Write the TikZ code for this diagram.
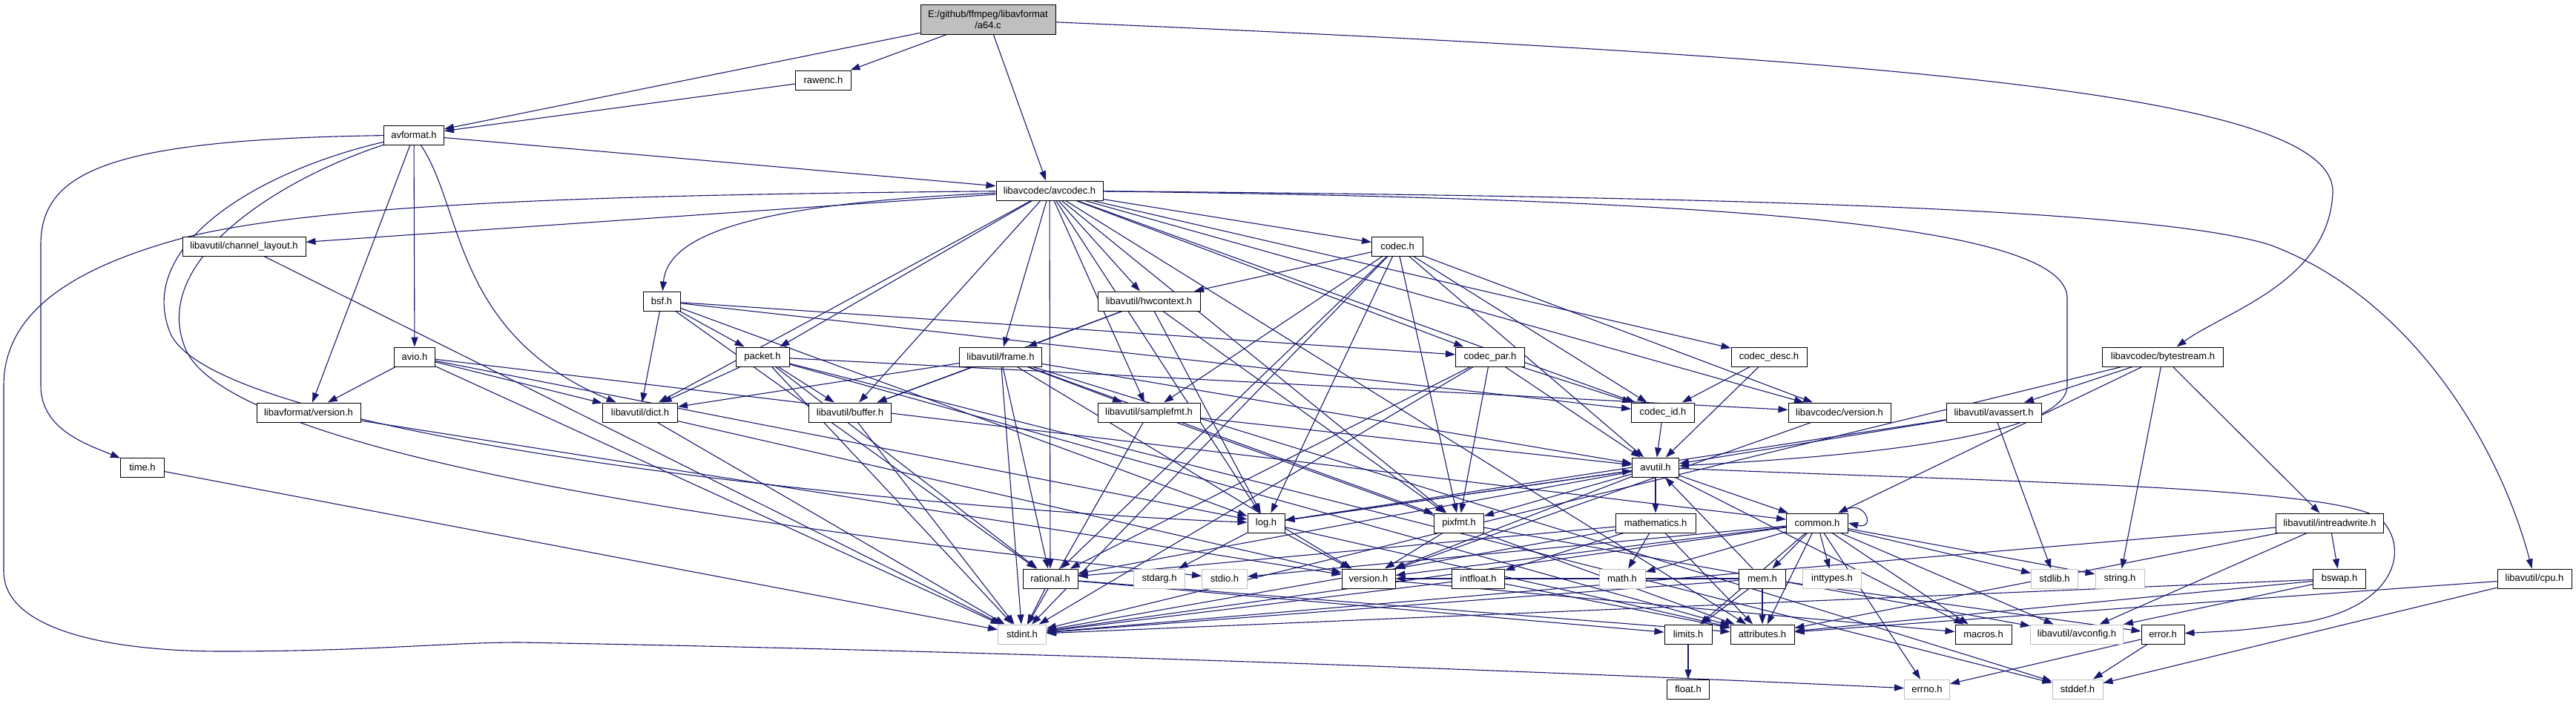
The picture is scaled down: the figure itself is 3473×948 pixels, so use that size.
\documentclass[tikz,border=0pt]{standalone}
\usepackage{fontspec}
\setmainfont{Liberation Sans}
\usetikzlibrary{arrows.meta}
\definecolor{edgeblue}{HTML}{191970}
\definecolor{sysgray}{HTML}{BFBFBF}
\pgfdeclarelayer{bg}
\pgfsetlayers{bg,main}
\begin{document}
\begin{tikzpicture}[x=1pt,y=-1pt,
  box/.style={draw=black, line width=1pt, fill=white, inner sep=0pt, minimum height=26pt, font=\fontsize{13}{15}\selectfont},
  sys/.style={box, draw=sysgray},
  dep/.style={draw=edgeblue, line width=1.1pt, -{Triangle[length=13pt,width=9pt]}},
]
\useasboundingbox (0,0) rectangle (3473,948);
% nodes
\node[box, minimum width=182pt, minimum height=40pt, fill=sysgray, align=center] (a64) at (1332,26) {E:/github/ffmpeg/libavformat\\/a64.c};
\node[box, minimum width=75pt] (rawenc) at (1110,108) {rawenc.h};
\node[box, minimum width=81pt] (avformat) at (558,182) {avformat.h};
\node[box, minimum width=144pt] (avcodec) at (1415,257) {libavcodec/avcodec.h};
\node[box, minimum width=166pt] (chlayout) at (329,332) {libavutil/channel\_layout.h};
\node[box, minimum width=69pt] (codec) at (1884,332) {codec.h};
\node[box, minimum width=50pt] (bsf) at (892,406) {bsf.h};
\node[box, minimum width=138pt] (hwcontext) at (1549,406) {libavutil/hwcontext.h};
\node[box, minimum width=55pt] (avio) at (559,481) {avio.h};
\node[box, minimum width=72pt] (packet) at (1028,481) {packet.h};
\node[box, minimum width=111pt] (frame) at (1349,481) {libavutil/frame.h};
\node[box, minimum width=93pt] (codecpar) at (2009,481) {codec\_par.h};
\node[box, minimum width=102pt] (codecdesc) at (2385,481) {codec\_desc.h};
\node[box, minimum width=163pt] (bytestream) at (2916,481) {libavcodec/bytestream.h};
\node[box, minimum width=140pt] (fmtversion) at (416,556) {libavformat/version.h};
\node[box, minimum width=101pt] (dict) at (863,556) {libavutil/dict.h};
\node[box, minimum width=111pt] (buffer) at (1146,556) {libavutil/buffer.h};
\node[box, minimum width=138pt] (samplefmt) at (1549,556) {libavutil/samplefmt.h};
\node[box, minimum width=85pt] (codecid) at (2242,556) {codec\_id.h};
\node[box, minimum width=138pt] (codecversion) at (2480,556) {libavcodec/version.h};
\node[box, minimum width=128pt] (avassert) at (2688,556) {libavutil/avassert.h};
\node[box, minimum width=59pt] (timeh) at (192,630) {time.h};
\node[box, minimum width=63pt] (avutil) at (2232,630) {avutil.h};
\node[box, minimum width=50pt] (log) at (1707,705) {log.h};
\node[box, minimum width=67pt] (pixfmt) at (1967,705) {pixfmt.h};
\node[box, minimum width=108pt] (mathematics) at (2232,705) {mathematics.h};
\node[box, minimum width=83pt] (common) at (2450,705) {common.h};
\node[box, minimum width=145pt] (intreadwrite) at (3141,705) {libavutil/intreadwrite.h};
\node[box, minimum width=74pt] (rational) at (1416,780) {rational.h};
\node[sys, minimum width=69pt] (stdarg) at (1563,780) {stdarg.h};
\node[sys, minimum width=61pt] (stdio) at (1651,780) {stdio.h};
\node[box, minimum width=72pt] (version) at (1845,780) {version.h};
\node[box, minimum width=71pt] (intfloat) at (1993,780) {intfloat.h};
\node[sys, minimum width=62pt] (math) at (2187,780) {math.h};
\node[box, minimum width=63pt] (mem) at (2376,780) {mem.h};
\node[sys, minimum width=79pt] (inttypes) at (2470,780) {inttypes.h};
\node[sys, minimum width=63pt] (stdlib) at (2770,780) {stdlib.h};
\node[sys, minimum width=66pt] (string) at (2858,780) {string.h};
\node[box, minimum width=71pt] (bswap) at (3154,780) {bswap.h};
\node[box, minimum width=100pt] (cpu) at (3417,780) {libavutil/cpu.h};
\node[sys, minimum width=65pt] (stdint) at (1378,855) {stdint.h};
\node[box, minimum width=64pt] (limits) at (2276,855) {limits.h};
\node[box, minimum width=86pt] (attributes) at (2376,855) {attributes.h};
\node[box, minimum width=76pt] (macros) at (2674,855) {macros.h};
\node[sys, minimum width=125pt] (avconfig) at (2800,855) {libavutil/avconfig.h};
\node[box, minimum width=58pt] (error) at (2916,855) {error.h};
\node[box, minimum width=57pt] (float) at (2276,929) {float.h};
\node[sys, minimum width=61pt] (errno) at (2598,929) {errno.h};
\node[sys, minimum width=68pt] (stddef) at (2801,929) {stddef.h};
% edges
\begin{pgfonlayer}{bg}
\fill[white] (0,0) rectangle (3473,948);
\foreach \a/\b in {a64/avformat, a64/rawenc, a64/avcodec, rawenc/avformat,
  avformat/avcodec, avformat/avio, avformat/fmtversion,
  avcodec/samplefmt, avcodec/attributes, avcodec/buffer, avcodec/chlayout, avcodec/dict, avcodec/frame, avcodec/hwcontext, avcodec/log, avcodec/pixfmt, avcodec/rational, avcodec/codec, avcodec/codecdesc, avcodec/codecpar, avcodec/codecid, avcodec/packet, avcodec/codecversion,
  bsf/dict, bsf/log, bsf/rational, bsf/codecid, bsf/codecpar, bsf/packet,
  codec/stdint, codec/avutil, codec/hwcontext, codec/log, codec/pixfmt, codec/rational, codec/samplefmt, codec/codecid, codec/codecversion,
  codecdesc/avutil, codecdesc/codecid,
  codecpar/stdint, codecpar/avutil, codecpar/rational, codecpar/pixfmt, codecpar/codecid,
  codecid/avutil, codecversion/version,
  packet/stddef, packet/stdint, packet/attributes, packet/buffer, packet/dict, packet/rational, packet/codecversion,
  frame/stddef, frame/stdint, frame/avutil, frame/buffer, frame/dict, frame/rational, frame/samplefmt, frame/pixfmt, frame/version,
  hwcontext/buffer, hwcontext/frame, hwcontext/log, hwcontext/pixfmt,
  samplefmt/stdint, samplefmt/avutil, samplefmt/attributes,
  buffer/stdint, dict/stdint, dict/version, chlayout/stdint,
  avutil/common, avutil/rational, avutil/version, avutil/macros, avutil/mathematics, avutil/log, avutil/pixfmt,
  common/errno, common/inttypes, common/limits, common/math, common/stdint, common/stdio, common/stdlib, common/string, common/attributes, common/macros, common/version, common/avconfig, common/mem,
  mem/limits, mem/stdint, mem/attributes, mem/error, mem/avutil, mem/version,
  mathematics/stdint, mathematics/math, mathematics/attributes, mathematics/rational, mathematics/intfloat,
  intfloat/stdint, intfloat/attributes,
  rational/stdint, rational/limits, rational/attributes,
  log/stdarg, log/avutil, log/attributes, log/version,
  pixfmt/avconfig, pixfmt/version, version/macros,
  error/errno, error/stddef, limits/float,
  cpu/stddef, cpu/attributes,
  avassert/stdlib, avassert/avutil, avassert/log,
  bytestream/stdint, bytestream/string, bytestream/avassert, bytestream/common, bytestream/intreadwrite,
  intreadwrite/stdint, intreadwrite/avconfig, intreadwrite/attributes, intreadwrite/bswap,
  bswap/stdint, bswap/avconfig, bswap/attributes,
  avio/stdint, avio/common, avio/dict, avio/log, avio/fmtversion,
  fmtversion/version, timeh/stdint}
  {\draw[dep] (\a) -- (\b);}
% routed edges
\draw[dep] (a64) .. controls (2600,80) and (3150,130) .. (3145,260) .. controls (3140,380) and (3000,420) .. (bytestream);
\draw[dep] (avformat) .. controls (150,188) and (55,230) .. (55,330) -- (55,520) .. controls (55,580) and (120,600) .. (timeh);
\draw[dep] (avformat) .. controls (350,230) and (180,330) .. (230,450) .. controls (300,600) and (1300,690) .. (log);
\draw[dep] (avformat) .. controls (380,240) and (200,350) .. (250,470) .. controls (320,640) and (1300,740) .. (stdio);
\draw[dep] (avformat) .. controls (625,280) and (610,450) .. (dict);
\draw[dep] (avcodec) .. controls (900,262) and (450,270) .. (250,320) .. controls (100,360) and (5,420) .. (5,520) -- (5,770) .. controls (5,850) and (150,878) .. (300,878) .. controls (500,878) and (600,866) .. (700,866) .. controls (1500,880) and (2300,915) .. (errno);
\draw[dep] (avcodec) .. controls (2300,265) and (2900,280) .. (3060,330) .. controls (3250,400) and (3370,600) .. (cpu);
\draw[dep] (avcodec) .. controls (2300,268) and (2780,300) .. (2787,400) -- (2787,520) .. controls (2787,600) and (2400,620) .. (avutil);
\draw[dep] (avcodec) .. controls (1000,275) and (900,320) .. (bsf);
\draw[dep] (avutil) .. controls (2700,650) and (3150,655) .. (3210,700) .. controls (3250,740) and (3230,820) .. (3100,840) .. controls (3020,850) .. (error);
\draw[dep] ([xshift=-10pt]common.north east) .. controls +(30,-25) and +(40,10) .. (common.east);
\end{pgfonlayer}
\end{tikzpicture}
\end{document}
